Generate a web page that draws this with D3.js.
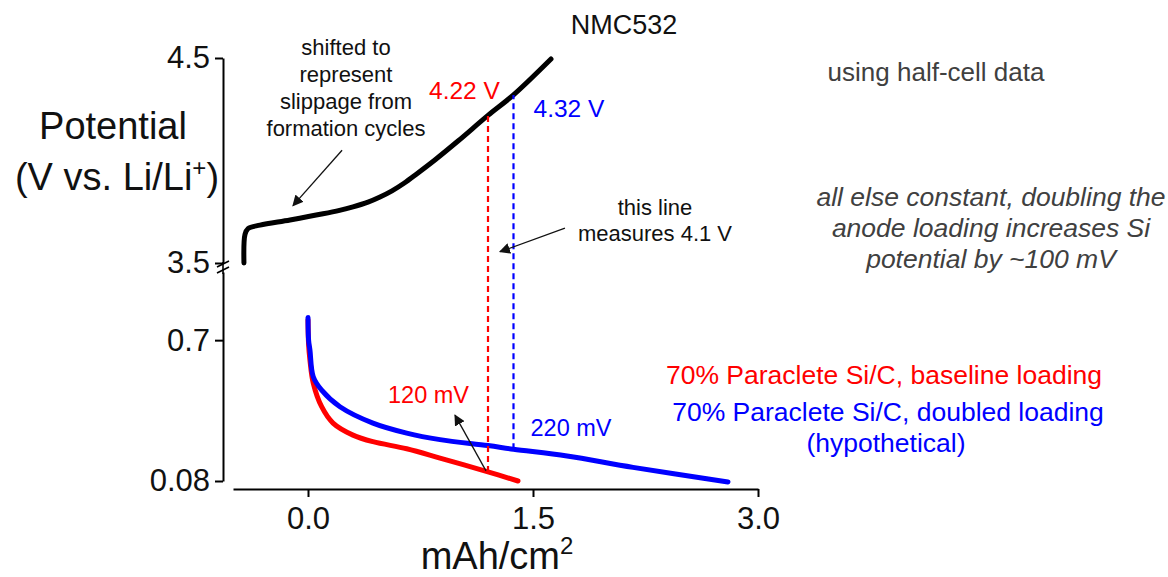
<!DOCTYPE html>
<html>
<head>
<meta charset="utf-8">
<script src="https://cdn.jsdelivr.net/npm/d3@7"></script>
<style>
  html, body { margin: 0; padding: 0; background: #fff; }
  svg { display: block; font-family: "Liberation Sans", Arial, sans-serif; }
</style>
</head>
<body>
<svg id="chart" width="1168" height="577"></svg>
<script>
// Capacity (mAh/cm²) vs. potential, NMC532 cathode (upper panel) and Si/C anodes (lower panel)
const cathodeCapacity = [-0.427, -0.42, -0.40, -0.32, -0.12, 0.10, 0.21, 0.30, 0.40, 0.48, 0.56, 0.64, 0.72, 0.85, 1.0, 1.20, 1.37, 1.62];
const cathodeVoltage  = [3.50, 3.64, 3.668, 3.685, 3.71, 3.74, 3.757, 3.774, 3.797, 3.822, 3.852, 3.889, 3.932, 4.005, 4.095, 4.22, 4.32, 4.495];

const baselineCapacity = [0, 0.004, 0.013, 0.035, 0.091, 0.167, 0.30, 0.433, 0.658, 0.88, 1.20, 1.40];
const baselineVoltage  = [0.79, 0.68, 0.612, 0.511, 0.407, 0.335, 0.282, 0.253, 0.222, 0.181, 0.12, 0.08];

const doubledCapacity = [0, 0.004, 0.013, 0.035, 0.091, 0.213, 0.433, 0.658, 0.88, 1.20, 1.37, 1.727, 2.167, 2.80];
const doubledVoltage  = [0.80, 0.70, 0.656, 0.539, 0.480, 0.407, 0.335, 0.291, 0.262, 0.236, 0.22, 0.19, 0.14, 0.076];

// Cut-off markers: capacity, anode potential, cathode potential
const cutoffCapacity = [1.20, 1.37];
const cutoffAnode    = [0.12, 0.22];
const cutoffCathode  = [4.22, 4.32];
const cutoffColors   = ["#ff0000", "#0000ff"];

const xTicks = [0.0, 1.5, 3.0];
const upperTicks = [3.5, 4.5];
const lowerTicks = [0.08, 0.7];

const svg = d3.select("#chart");

const x = d3.scaleLinear().domain([-0.5, 3.0]).range([233, 758]);
const yUp = d3.scaleLinear().domain([3.5, 4.5]).range([263, 58]);
const yLow = d3.scaleLinear().domain([0.08, 1.0]).range([481, 272]);

// Axes
const axisStyle = g => {
  g.selectAll("path, line").attr("stroke", "#000").attr("stroke-width", 2);
  g.selectAll("text").attr("font-size", 31).attr("fill", "#111").attr("font-family", "Liberation Sans, Arial, sans-serif");
};

svg.append("g").attr("transform", "translate(223,0)")
  .call(d3.axisLeft(yUp).tickValues(upperTicks).tickFormat(d3.format(".1f")).tickSize(8).tickSizeOuter(0).tickPadding(5))
  .call(axisStyle);

svg.append("g").attr("transform", "translate(223,0)")
  .call(d3.axisLeft(yLow).tickValues(lowerTicks).tickFormat(d => String(d)).tickSize(8).tickSizeOuter(0).tickPadding(5))
  .call(axisStyle);

svg.append("g").attr("transform", "translate(0,489)")
  .call(d3.axisBottom(x).tickValues(xTicks).tickFormat(d3.format(".1f")).tickSize(8).tickSizeOuter(0).tickPadding(10))
  .call(axisStyle);

// Axis break marks
const brk = svg.append("g").attr("stroke", "#000").attr("stroke-width", 1.6);
brk.append("line").attr("x1", 223).attr("x2", 223).attr("y1", 262).attr("y2", 274);
[264, 270].forEach(yy => {
  brk.append("line").attr("x1", 217).attr("y1", yy + 3).attr("x2", 229).attr("y2", yy - 3);
});

// Axis titles
svg.append("text").attr("x", 113).attr("y", 139).attr("text-anchor", "middle")
  .attr("font-size", 38).attr("fill", "#111").text("Potential");
const yt = svg.append("text").attr("x", 117).attr("y", 190).attr("text-anchor", "middle")
  .attr("font-size", 38).attr("fill", "#111");
yt.append("tspan").text("(V vs. Li/Li");
yt.append("tspan").attr("font-size", 24).attr("dy", -14).text("+");
yt.append("tspan").attr("dy", 14).text(")");

const xt = svg.append("text").attr("x", 497).attr("y", 569).attr("text-anchor", "middle")
  .attr("font-size", 38).attr("fill", "#111");
xt.append("tspan").text("mAh/cm");
xt.append("tspan").attr("font-size", 24).attr("dy", -15).text("2");

svg.append("text").attr("x", 624).attr("y", 34).attr("text-anchor", "middle")
  .attr("font-size", 27).attr("fill", "#111").text("NMC532");

// Curves
const lineUp = d3.line().x(d => x(d[0])).y(d => yUp(d[1])).curve(d3.curveCatmullRom.alpha(0.5));
const lineLow = d3.line().x(d => x(d[0])).y(d => yLow(d[1])).curve(d3.curveCatmullRom.alpha(0.5));

svg.append("path").datum(d3.zip(cathodeCapacity, cathodeVoltage))
  .attr("d", lineUp).attr("fill", "none").attr("stroke", "#000")
  .attr("stroke-width", 5).attr("stroke-linecap", "round").attr("stroke-linejoin", "round");

svg.append("path").datum(d3.zip(baselineCapacity, baselineVoltage))
  .attr("d", lineLow).attr("fill", "none").attr("stroke", "#ff0000")
  .attr("stroke-width", 5).attr("stroke-linecap", "round").attr("stroke-linejoin", "round");

svg.append("path").datum(d3.zip(doubledCapacity, doubledVoltage))
  .attr("d", lineLow).attr("fill", "none").attr("stroke", "#0000ff")
  .attr("stroke-width", 5).attr("stroke-linecap", "round").attr("stroke-linejoin", "round");

// Dashed cut-off lines joining anode and cathode potentials
cutoffCapacity.forEach((c, i) => {
  svg.append("line")
    .attr("x1", x(c)).attr("x2", x(c))
    .attr("y1", yLow(cutoffAnode[i])).attr("y2", yUp(cutoffCathode[i]))
    .attr("stroke", cutoffColors[i]).attr("stroke-width", 2.2)
    .attr("stroke-dasharray", "6,4");
});

// Value labels
const label = (tx, ty, txt, color, size, anchor) =>
  svg.append("text").attr("x", tx).attr("y", ty).attr("text-anchor", anchor || "start")
    .attr("font-size", size).attr("fill", color).text(txt);

label(x(cutoffCapacity[0]) - 59, 99, cutoffCathode[0].toFixed(2) + " V", "#ff0000", 24.5);
label(x(cutoffCapacity[1]) + 20, 117, cutoffCathode[1].toFixed(2) + " V", "#0000ff", 24.5);
label(x(cutoffCapacity[0]) - 100, 403, Math.round(cutoffAnode[0] * 1000) + " mV", "#ff0000", 23.5);
label(x(cutoffCapacity[1]) + 17, 436, Math.round(cutoffAnode[1] * 1000) + " mV", "#0000ff", 23.5);

// Annotations
["shifted to", "represent", "slippage from", "formation cycles"].forEach((t, i) =>
  label(346, 55 + i * 27, t, "#111", 22, "middle"));
label(655, 215, "this line", "#111", 22, "middle");
label(655, 241, "measures 4.1 V", "#111", 22, "middle");

svg.append("text").attr("x", 936).attr("y", 81).attr("text-anchor", "middle")
  .attr("font-size", 26).attr("fill", "#404040").text("using half-cell data");
["all else constant, doubling the", "anode loading increases Si", "potential by ~100 mV"].forEach((t, i) =>
  svg.append("text").attr("x", 991).attr("y", 206 + i * 31).attr("text-anchor", "middle")
    .attr("font-size", 26.5).attr("font-style", "italic").attr("fill", "#404040").text(t));

// Legend
label(884, 384, "70% Paraclete Si/C, baseline loading", "#ff0000", 26.5, "middle");
label(888, 421, "70% Paraclete Si/C, doubled loading", "#0000ff", 26.5, "middle");
label(886, 452, "(hypothetical)", "#0000ff", 26.5, "middle");

// Arrows
const defs = svg.append("defs");
defs.append("marker").attr("id", "head").attr("viewBox", "0 0 10 10")
  .attr("refX", 9).attr("refY", 5).attr("markerWidth", 11).attr("markerHeight", 11)
  .attr("markerUnits", "userSpaceOnUse").attr("orient", "auto")
  .append("path").attr("d", "M0,0 L10,5 L0,10 z").attr("fill", "#111");

const arrow = (x1, y1, x2, y2) =>
  svg.append("line").attr("x1", x1).attr("y1", y1).attr("x2", x2).attr("y2", y2)
    .attr("stroke", "#111").attr("stroke-width", 1.3).attr("marker-end", "url(#head)");

arrow(x(0.227), yUp(4.05), x(-0.10), yUp(3.78));
arrow(x(1.713), yUp(3.67), x(1.28), yUp(3.555));
arrow(x(cutoffCapacity[0]) - 2, yLow(cutoffAnode[0]) - 1, x(0.98), yLow(0.37));
</script>
</body>
</html>
